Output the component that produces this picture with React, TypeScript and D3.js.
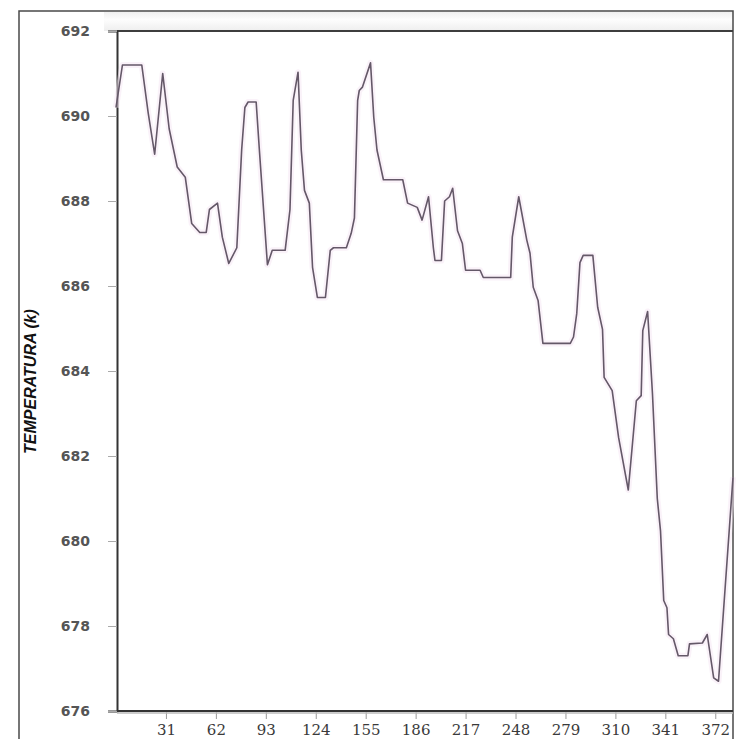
import React, { useEffect, useRef } from "react";
import * as d3 from "d3";

// sample index (x) and temperature (K)
const steps = [
  0, 4, 16, 20, 24, 29, 33, 38, 43, 47, 52, 56, 58, 63, 66, 70, 75, 78, 80, 82, 87, 89, 94,
  97, 105, 108, 110, 113, 115, 117, 120, 122, 125, 130, 133, 135, 143, 146, 148, 150, 151,
  153, 158, 160, 162, 166, 178, 181, 187, 190, 194, 197, 198, 202, 204, 207, 209, 212, 215,
  217, 226, 228, 245, 246, 250, 255, 257, 259, 262, 265, 282, 284, 286, 288, 290, 296, 299,
  302, 303, 308, 312, 318, 323, 326, 327, 330, 333, 336, 338, 340, 342, 343, 346, 349, 355,
  356, 364, 367, 371, 374, 383
];
const temperature = [
  690.2, 691.2, 691.2, 690.07, 689.1, 691.0, 689.7, 688.8, 688.56, 687.47, 687.26, 687.26,
  687.8, 687.95, 687.15, 686.53, 686.9, 689.2, 690.2, 690.33, 690.33, 689.2, 686.5,
  686.84, 686.84, 687.8, 690.37, 691.03, 689.2, 688.25, 687.95, 686.44, 685.73, 685.73,
  686.84, 686.9, 686.9, 687.24, 687.6, 690.37, 690.6, 690.68, 691.25, 689.97, 689.2,
  688.5, 688.5, 687.95, 687.85, 687.55, 688.1, 686.9, 686.6, 686.6, 688.0, 688.1, 688.3,
  687.3, 687.0, 686.37, 686.37, 686.2, 686.2, 687.15, 688.1, 687.08, 686.77, 685.97,
  685.66, 684.65, 684.65, 684.8, 685.35, 686.55, 686.72, 686.72, 685.5, 684.98, 683.85,
  683.54, 682.43, 681.2, 683.3, 683.42, 684.95, 685.4, 683.47, 681.0, 680.24, 678.6,
  678.43, 677.8, 677.7, 677.3, 677.3, 677.58, 677.6, 677.8, 676.78, 676.7, 681.5
];
const xTicks = [31, 62, 93, 124, 155, 186, 217, 248, 279, 310, 341, 372];
const yTicks = [676, 678, 680, 682, 684, 686, 688, 690, 692];

const W = 747;
const H = 739;

const App: React.FC = () => {
  const svgRef = useRef<SVGSVGElement>(null);

  useEffect(() => {
    document.body.style.margin = "0";
    if (!svgRef.current) return;
    const svg = d3.select(svgRef.current);
    svg.selectAll("*").remove();

    const left = 117, right = 733, top = 31, bottom = 711;

    const x = d3.scaleLinear().domain([0, 383]).range([116, right]);
    const y = d3.scaleLinear().domain([676, 692]).range([bottom, top]);

    svg.append("rect").attr("width", W).attr("height", H).attr("fill", "#ffffff");

    // faint band between the outer frame and the plot top
    const grad = svg.append("defs").append("linearGradient")
      .attr("id", "band").attr("x1", 0).attr("y1", 0).attr("x2", 0).attr("y2", 1);
    grad.append("stop").attr("offset", "0%").attr("stop-color", "#f0f0f0");
    grad.append("stop").attr("offset", "40%").attr("stop-color", "#fdfdfd");
    grad.append("stop").attr("offset", "100%").attr("stop-color", "#eeeeee");
    svg.append("rect")
      .attr("x", 104).attr("y", 12).attr("width", right - 104).attr("height", top - 12)
      .attr("fill", "url(#band)");

    // outer frame
    svg.append("path")
      .attr("d", `M19,${H}V11H${right}V${H}`)
      .attr("fill", "none").attr("stroke", "#4a4a4a").attr("stroke-width", 1.5);

    // plot top border
    svg.append("line")
      .attr("x1", left).attr("x2", right).attr("y1", top).attr("y2", top)
      .attr("stroke", "#3e3e3e").attr("stroke-width", 1.8);

    const yAxis = svg.append("g")
      .attr("transform", `translate(${left},0)`)
      .call(d3.axisLeft(y).tickValues(yTicks).tickSize(9).tickPadding(18).tickFormat(d3.format("d")));
    yAxis.select(".domain").attr("stroke", "#333").attr("stroke-width", 2);
    yAxis.selectAll(".tick line").attr("stroke", "#aaa");
    yAxis.selectAll("text")
      .attr("fill", "#555")
      .style("font-family", "'DejaVu Sans', sans-serif")
      .style("font-weight", "bold")
      .style("font-size", "14px");

    const xAxis = svg.append("g")
      .attr("transform", `translate(0,${bottom})`)
      .call(d3.axisBottom(x).tickValues(xTicks).tickSize(8).tickPadding(5).tickFormat(d3.format("d")));
    xAxis.select(".domain").remove();
    xAxis.append("line")
      .attr("x1", left).attr("x2", right).attr("y1", 0).attr("y2", 0)
      .attr("stroke", "#333").attr("stroke-width", 2);
    xAxis.append("line")
      .attr("x1", left).attr("x2", right).attr("y1", 2).attr("y2", 2)
      .attr("stroke", "#bbb").attr("stroke-width", 1.5);
    xAxis.selectAll(".tick line").attr("stroke", "#999");
    xAxis.selectAll("text")
      .attr("fill", "#3a3a3a")
      .style("font-family", "'DejaVu Serif', serif")
      .style("font-size", "15px");

    // y axis title
    svg.append("text")
      .attr("transform", `translate(36,${(303 + 460) / 2}) rotate(-90)`)
      .attr("text-anchor", "middle")
      .attr("fill", "#111")
      .style("font-family", "'Liberation Sans', Arial, sans-serif")
      .style("font-weight", "bold")
      .style("font-style", "italic")
      .style("font-size", "16px")
      .text("TEMPERATURA (k)");

    const pts = steps.map((s, i) => [s, temperature[i]] as [number, number]);
    const line = d3.line<[number, number]>().x(d => x(d[0])).y(d => y(d[1]));

    svg.append("path")
      .datum(pts)
      .attr("d", line)
      .attr("fill", "none")
      .attr("stroke", "#f6e6f3")
      .attr("stroke-width", 6)
      .attr("stroke-linejoin", "round")
      .attr("opacity", 0.5);

    svg.append("path")
      .datum(pts)
      .attr("d", line)
      .attr("fill", "none")
      .attr("stroke", "#645868")
      .attr("stroke-width", 1.6)
      .attr("stroke-linejoin", "round");
  }, []);

  return <svg ref={svgRef} width={W} height={H} style={{ display: "block" }} />;
};

export default App;
